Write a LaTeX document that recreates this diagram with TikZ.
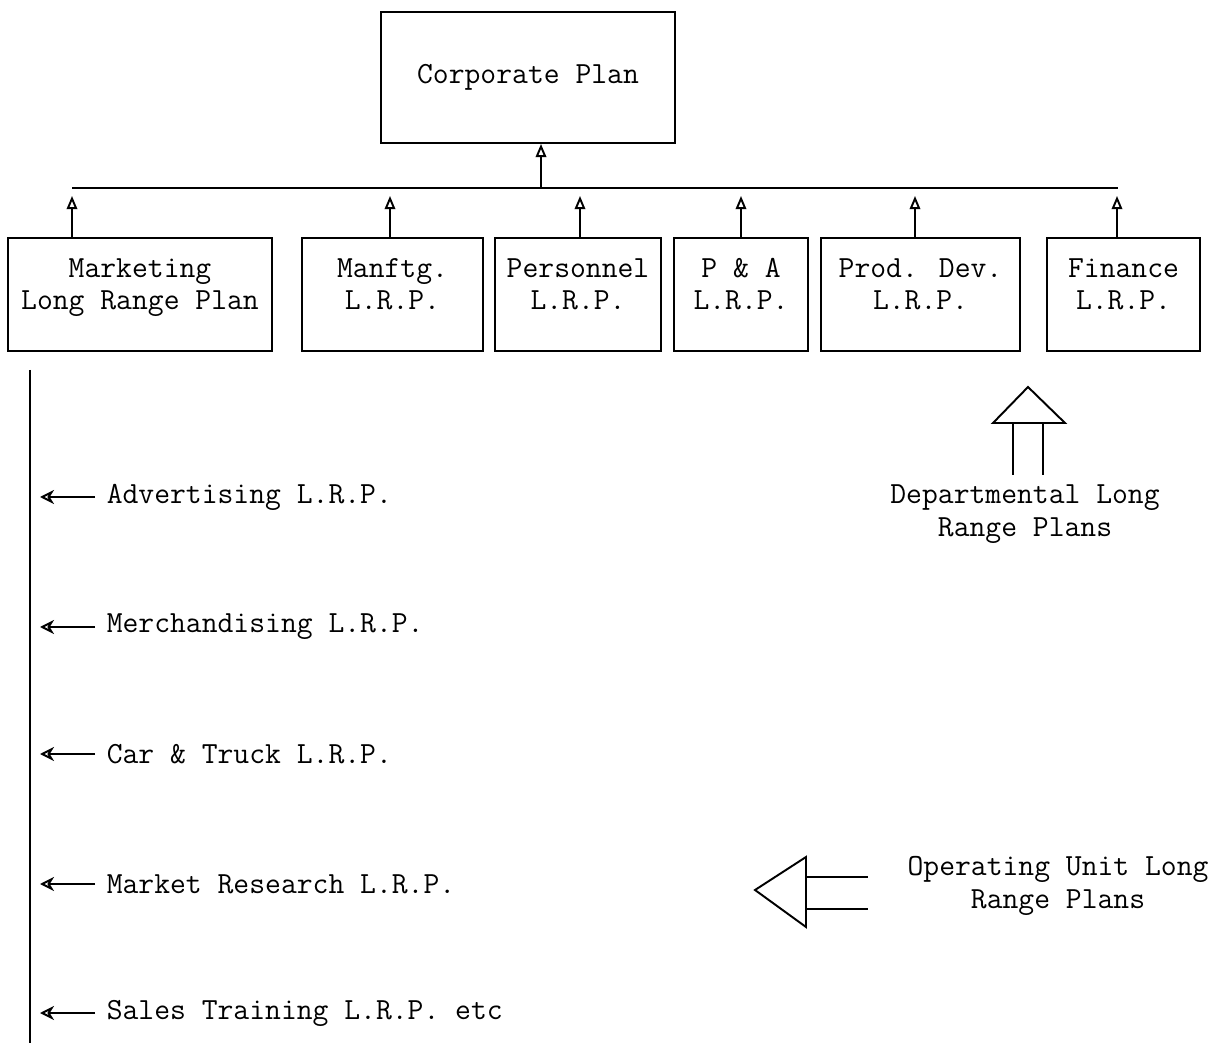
\documentclass[tikz,border=0pt]{standalone}
\usetikzlibrary{arrows.meta}

\begin{document}
\begin{tikzpicture}[x=0.02cm, y=-0.02cm, line width=1.1pt,
  every node/.style={font=\ttfamily\fontsize{17.5}{18.5}\selectfont},
  plan/.style={draw, align=center, inner sep=0pt},
  deptplan/.style={plan, minimum height=2.26cm, text depth=12pt},
  uparr/.style={-{Triangle[open, length=7.5pt, width=6pt]}},
  sidearr/.style={-{Stealth[open, length=8pt, width=8pt, inset=2.5pt]}, shorten >=0.2cm, shorten <=0.1cm}]

\useasboundingbox (0,0) rectangle (1221,1043);

% Top box
\node[plan, minimum width=5.88cm, minimum height=2.62cm] (corp) at (528,77.5) {Corporate Plan};

% Departmental boxes
\node[deptplan, minimum width=5.28cm] (mkt)  at (140,294.5)  {Marketing\\Long Range Plan};
\node[deptplan, minimum width=3.62cm] (mfg)  at (392.5,294.5) {Manftg.\\L.R.P.};
\node[deptplan, minimum width=3.32cm] (pers) at (578,294.5)  {Personnel\\L.R.P.};
\node[deptplan, minimum width=2.68cm] (pa)   at (741,294.5)  {P \& A\\L.R.P.};
\node[deptplan, minimum width=3.98cm] (prod) at (920.5,294.5) {Prod. Dev.\\L.R.P.};
\node[deptplan, minimum width=3.06cm] (fin)  at (1123.5,294.5) {Finance\\L.R.P.};

% Bus line
\coordinate (b1) at (72,188);
\coordinate (b6) at (1118,188);
\coordinate (bc) at (541,188);
\draw (b1) -- (b6);
\draw[uparr] (bc) -- (bc |- corp.south);

% Arrows up to the bus
\foreach \nd/\x in {mkt/72, mfg/390, pers/580, pa/741, prod/915, fin/1117}
{
    \draw[uparr, shorten >=0.16cm] (\x,0 |- \nd.north) -- (\x,188);
}

% Marketing spine
\coordinate (top) at (30,370);
\coordinate (bot) at (30,1043);
\draw (top) -- (bot);

% Operating unit plans
\foreach \name/\y/\txt in {adv/497/Advertising L.R.P., merch/627/Merchandising L.R.P., car/754/Car \& Truck L.R.P., mres/884/Market Research L.R.P., sales/1013/Sales Training L.R.P. etc}
{
    \node[anchor=west] (\name) at (100,\y) {\txt};
    \draw[sidearr] (\name.west) -- (\name.west -| top);
}

% Departmental marker
\draw (993,423) -- (1028,387) -- (1065,423) -- cycle;
\draw (1013,423) -- (1013,475);
\draw (1043,423) -- (1043,475);
\node[align=center] (dept) at (1025,514) {Departmental Long\\Range Plans};

% Operating unit marker
\draw (806,857) -- (755,890) -- (806,927) -- cycle;
\draw (806,877) -- (868,877);
\draw (806,909) -- (868,909);
\node[align=center] (opu) at (1058,886) {Operating Unit Long\\Range Plans};

\end{tikzpicture}
\end{document}
